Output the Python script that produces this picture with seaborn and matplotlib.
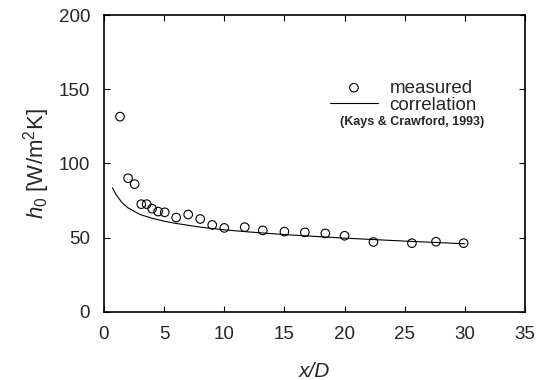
import numpy as np
import pandas as pd
import matplotlib
matplotlib.use('Agg')
import matplotlib.pyplot as plt
import seaborn as sns

x_meas = [1.33, 2.0, 2.55, 3.1, 3.55, 4.0, 4.5, 5.05, 6.0, 7.0, 8.0, 9.0,
          10.0, 11.7, 13.2, 15.0, 16.7, 18.4, 20.0, 22.4, 25.6, 27.6, 29.9]
h_meas = [131.5, 90.0, 86.0, 72.5, 72.5, 69.5, 67.5, 67.0, 63.5, 65.5, 62.5, 58.5,
          56.5, 57.0, 54.8, 54.0, 53.5, 52.8, 51.2, 47.0, 46.2, 47.2, 46.2]

# correlation (Kays & Crawford, 1993)
x_corr = [0.7, 1.0, 1.5, 2.0, 3.0, 4.0, 5.0, 6.0, 8.0, 10.0, 12.0, 15.0, 20.0, 25.0, 30.0]
h_corr = [83.5, 79.0, 73.5, 70.0, 65.5, 63.0, 61.0, 59.5, 57.0, 55.2, 53.8, 52.0, 49.6, 47.6, 45.8]

x_ticks = [0, 5, 10, 15, 20, 25, 30, 35]
y_ticks = [0, 50, 100, 150, 200]

meas = pd.DataFrame({'x': x_meas, 'h': h_meas})
corr = pd.DataFrame({'x': x_corr, 'h': h_corr})

sns.set_style('ticks')
plt.rcParams['font.family'] = ['Liberation Sans', 'DejaVu Sans']
plt.rcParams['mathtext.fontset'] = 'custom'
plt.rcParams['mathtext.rm'] = 'Liberation Sans'
plt.rcParams['mathtext.it'] = 'Liberation Sans:italic'

fig = plt.figure(figsize=(5.45, 3.8), dpi=100)
ax = fig.add_axes([0.1908, 0.1797, 0.7725, 0.7808])

sns.lineplot(data=corr, x='x', y='h', ax=ax, color='black', linewidth=0.8,
             label='correlation')
sns.scatterplot(data=meas, x='x', y='h', ax=ax, marker='o', s=38,
                facecolor='none', edgecolor='black', linewidth=0.8,
                label='measured')

ax.set_xlim(0, 35)
ax.set_ylim(0, 200)
ax.set_xticks(x_ticks)
ax.set_yticks(y_ticks)
ax.tick_params(direction='in', length=4, width=0.8, labelsize=13.5, pad=10,
               top=True, right=True, color='black')
for s in ax.spines.values():
    s.set_linewidth(1.2)
    s.set_color('black')

ax.set_xlabel('x/D', fontsize=15, style='italic', labelpad=14)
ax.set_ylabel('$h_0$ [W/m$^2$K]', fontsize=16, labelpad=5)

handles, labels = ax.get_legend_handles_labels()
order = [labels.index('measured'), labels.index('correlation')]
ax.legend([handles[i] for i in order], [labels[i] for i in order],
          loc='upper left', bbox_to_anchor=(0.518, 0.808), frameon=False,
          fontsize=13.5, handlelength=2.6, handletextpad=0.6,
          labelspacing=0.0, borderaxespad=0)
ax.text(0.56, 0.64, '(Kays & Crawford, 1993)', transform=ax.transAxes,
        fontsize=9, fontweight='bold', ha='left', va='center')

fig.savefig('out.png', dpi=100)
